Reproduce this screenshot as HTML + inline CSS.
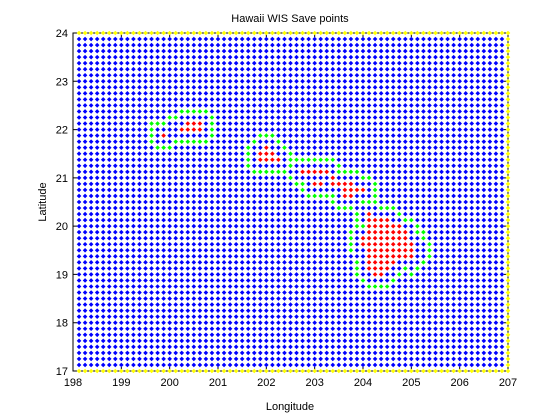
<!DOCTYPE html>
<html><head><meta charset="utf-8">
<style>
html,body{margin:0;padding:0;background:#fff;}
svg{display:block;font-family:"Liberation Sans",sans-serif;}
</style></head>
<body>
<svg id="chart" width="560" height="420" viewBox="0 0 560 420">
  <rect x="0" y="0" width="560" height="420" fill="#fff"/>
  <rect x="73" y="33" width="435" height="338" fill="none" stroke="#000" stroke-width="1"/>
  <g id="axes"></g>
  <g id="points"></g>
  <g id="labels"></g>
  <text x="290" y="22" font-size="11" text-anchor="middle">Hawaii WIS Save points</text>
  <text x="290" y="410" font-size="11" text-anchor="middle">Longitude</text>
  <text x="46" y="202" font-size="11" text-anchor="middle" transform="rotate(-90 46 202)">Latitude</text>
</svg>
<script>
const xTicks = [198,199,200,201,202,203,204,205,206,207];
const yTicks = [17,18,19,20,21,22,23,24];
const gridStep = 0.125;
const lonMin = 198, latMin = 17;
const colRange = [1, 72];
const rowRange = [0, 56];
// land (red) cells: row index -> column indices
const landRows = {
  39:[15], 41:[19,20,21], 40:[18,19,20,21],
  37:[32], 36:[31,32,33], 35:[31,32,33,34],
  33:[38,39,40,41,42], 32:[43], 31:[40,41,43,44,45,46], 30:[45,46,47,48], 29:[45,46],
  26:[49], 25:[49,50,51,52], 24:[49,50,51,52,53,54], 23:[49,50,51,52,53,54,55],
  22:[48,49,50,51,52,53,54,55], 21:[48,49,50,51,52,53,54,55,56], 20:[49,50,51,52,53,54,55,56],
  19:[49,50,51,52,53,54,55,56], 18:[49,50,51,52,53], 17:[49,50,51,52], 16:[50,51]
};
// coastal (green) cells
const coastRows = {
  43:[18,19,20,21,22], 42:[16,17,23], 41:[13,14,15,23], 40:[13,23], 39:[13,23,31,32,33],
  38:[13,17,18,19,20,21,22,30,34], 37:[14,15,16,29,35], 36:[29,36], 35:[29,36,37,38,39,40,41,42,43],
  34:[29,36,44], 33:[30,31,32,33,34,35,44,45,46,47], 32:[36,48,49], 31:[37,38,50], 30:[38,50],
  29:[39,40,41,42,43,50], 28:[43,48,49,50], 27:[44,45,46,51,52,53], 26:[47,54], 25:[47,55,56],
  24:[47,48,57], 23:[46,57,58], 22:[46,58], 21:[46,59], 20:[46,59], 19:[59], 18:[47,58],
  17:[47,55,57], 16:[47,54,56], 15:[48,53], 14:[49,50,51,52]
};

const X0=73, X1=508, Y0=371, Y1=33;
function xs(lon){ return X0 + (lon-198)*(X1-X0)/9; }
function ys(lat){ return Y0 - (lat-17)*(Y0-Y1)/7; }
const NS='http://www.w3.org/2000/svg';
const pts=document.getElementById('points');
const land={}, coast={};
for(const r in landRows) landRows[r].forEach(c=>land[r+','+c]=1);
for(const r in coastRows) coastRows[r].forEach(c=>coast[r+','+c]=1);
let d={blue:'',green:'',red:'',yellow:''};
const s=2.3;
for(let j=rowRange[0]; j<=rowRange[1]; j++){
  for(let i=colRange[0]; i<=colRange[1]; i++){
    const k=j+','+i;
    let col='blue';
    if(j===rowRange[0]||j===rowRange[1]||i===colRange[1]) col='yellow';
    else if(land[k]) col='red';
    else if(coast[k]) col='green';
    const x=xs(lonMin+i*gridStep), y=ys(latMin+j*gridStep);
    d[col]+=`M${(x-s).toFixed(2)} ${y.toFixed(2)}L${x.toFixed(2)} ${(y-s).toFixed(2)}L${(x+s).toFixed(2)} ${y.toFixed(2)}L${x.toFixed(2)} ${(y+s).toFixed(2)}Z`;
  }
}
const fills={blue:'#0000ff',green:'#00ff00',red:'#ff0000',yellow:'#ffff00'};
for(const c in d){
  const p=document.createElementNS(NS,'path');
  p.setAttribute('d',d[c]); p.setAttribute('fill',fills[c]);
  
  
  pts.appendChild(p);
}
const ax=document.getElementById('axes');
const lb=document.getElementById('labels');
xTicks.forEach(v=>{
  const x=xs(v);
  const t=document.createElementNS(NS,'path');
  t.setAttribute('d',`M${x} ${Y0}V${Y0-4}M${x} ${Y1}V${Y1+4}`);
  t.setAttribute('stroke','#000');
  
  
  ax.appendChild(t);
  const l=document.createElementNS(NS,'text');
  l.setAttribute('x',x); l.setAttribute('y',Y0+15);
  l.setAttribute('font-size','11'); l.setAttribute('text-anchor','middle');
  l.textContent=v;
  
  
  lb.appendChild(l);
});
yTicks.forEach(v=>{
  const y=ys(v);
  const t=document.createElementNS(NS,'path');
  t.setAttribute('d',`M${X0} ${y}H${X0+4}M${X1} ${y}H${X1-4}`);
  t.setAttribute('stroke','#000');
  
  
  ax.appendChild(t);
  const l=document.createElementNS(NS,'text');
  l.setAttribute('x',X0-5); l.setAttribute('y',y+4);
  l.setAttribute('font-size','11'); l.setAttribute('text-anchor','end');
  l.textContent=v;
  
  
  lb.appendChild(l);
});
</script>
</body></html>
